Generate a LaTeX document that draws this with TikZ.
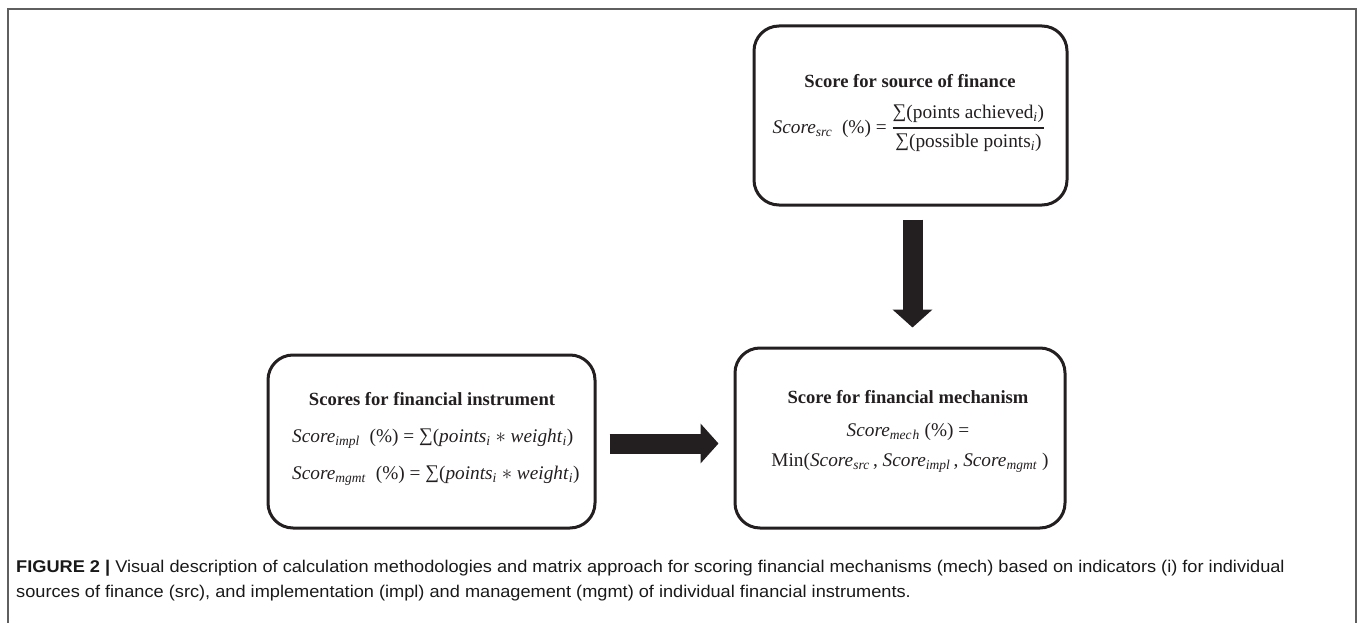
\documentclass[tikz,border=0pt]{standalone}
\usepackage{fontspec}
\setmainfont{Liberation Serif}
\newfontfamily\capfont[FakeStretch=1.07]{Liberation Sans}
\newfontfamily\frmfont{Liberation Serif}
\usetikzlibrary{arrows.meta,calc}
\definecolor{ink}{RGB}{35,31,32}
\definecolor{framegray}{RGB}{95,95,95}
% italic variable and italic subscript
\newcommand{\vr}[1]{\textit{#1}}
\newcommand{\sbi}[1]{\textsubscript{\textit{#1}}}
\newcommand{\sumsign}{\raisebox{0.05em}{∑}}
\begin{document}
\begin{tikzpicture}[x=1pt,y=-1pt,
  box/.style={draw=ink, line width=3pt, rounded corners=25pt, inner sep=0pt},
  titletext/.style={font=\bfseries\fontsize{18.6}{22}\selectfont, text=ink, inner sep=0pt},
  formula/.style={font=\frmfont\fontsize{19.3}{23}\selectfont, text=ink, inner sep=0pt},
  captext/.style={font=\capfont\fontsize{17}{20}\selectfont, text=black!90, inner sep=0pt, anchor=base west},
  blockarrow/.style={draw=ink, line width=20pt, -{Triangle[width=39pt,length=18pt]}}]
\useasboundingbox (0,0) rectangle (1358,623);

% open frame around the figure
\draw[framegray, line width=2pt] (8,623) -- (8,9) -- (1356,9) -- (1356,623);

% the three boxes
\node[box, minimum width=313pt, minimum height=179pt] (src) at (910.5,115.5) {};
\node[box, minimum width=327pt, minimum height=173pt] (inst) at (431.5,441.5) {};
\node[box, minimum width=330pt, minimum height=180pt] (mech) at (900,438) {};

% source of finance
\node[titletext, anchor=base] (srcT) at (910,88) {Score for source of finance};
\node[formula] (srcF) at (909,128) {\vr{Score}\sbi{src} \ (\%) = $\displaystyle{\mbox{\sumsign(points achieved\sbi{i})} \above 1.6pt \mbox{\sumsign(possible points\sbi{i})}}$};

% financial instrument
\node[titletext, anchor=base] (instT) at (432,405) {Scores for financial instrument};
\node[formula, anchor=base west] (instF1) at (292,442) {\vr{Score}\sbi{impl} \ (\%) = \sumsign(\vr{points}\sbi{i} $\ast$ \vr{weight}\sbi{i})};
\node[formula, anchor=base west] (instF2) at (292,479) {\vr{Score}\sbi{mgmt} \ (\%) = \sumsign(\vr{points}\sbi{i} $\ast$ \vr{weight}\sbi{i})};

% financial mechanism
\node[titletext, anchor=base] (mechT) at (908,403) {Score for financial mechanism};
\node[formula, anchor=base] (mechF1) at (908,436) {\vr{Score}\sbi{mec\kern1pt h} (\%) =};
\node[formula, anchor=base] (mechF2) at (910,466) {Min(\vr{Score}\sbi{src}\,, \vr{Score}\sbi{impl}\,, \vr{Score}\sbi{mgmt} )};

% block arrows
\draw[blockarrow, shorten <=13pt, shorten >=19pt] ([xshift=2pt]src.south) -- ([xshift=2pt]src.south |- mech.north);
\draw[blockarrow, shorten <=13pt, shorten >=15pt] ([yshift=-2pt]inst.east) -- ([yshift=-2pt]inst.east -| mech.west);

% caption
\node[captext] (cap1) at (16,572) {\textbf{FIGURE 2 |} Visual description of calculation methodologies and matrix approach for scoring financial mechanisms (mech) based on indicators (i) for individual};
\node[captext] (cap2) at (16,597) {sources of finance (src), and implementation (impl) and management (mgmt) of individual financial instruments.};
\end{tikzpicture}
\end{document}
